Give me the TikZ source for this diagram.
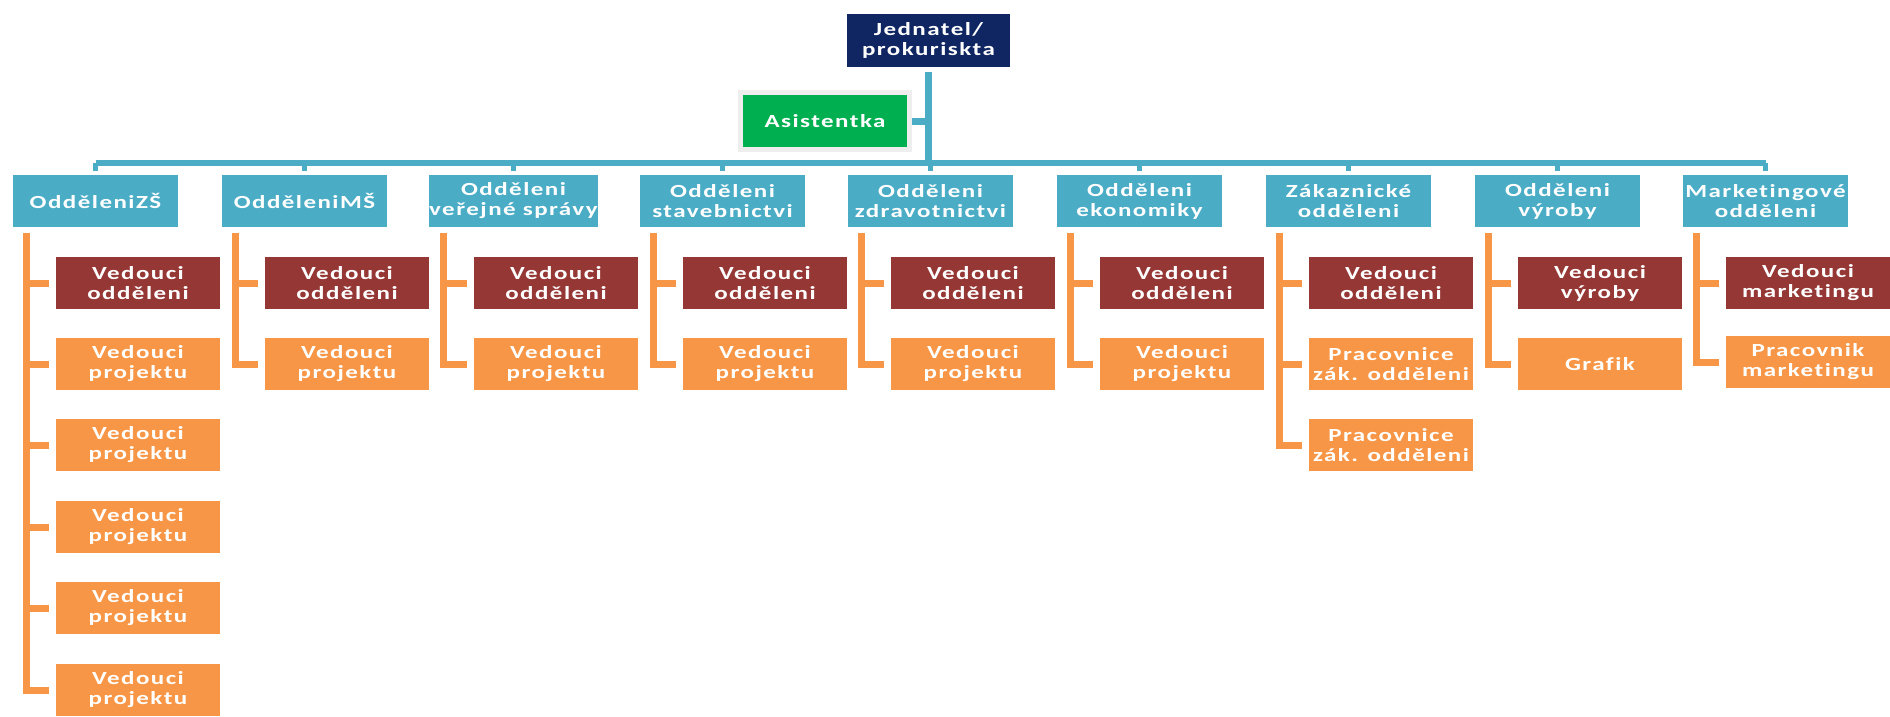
\documentclass[tikz,border=0pt]{standalone}
\usepackage{fontspec}
\newfontfamily\chartfont[FakeStretch=1.35, LetterSpace=8, Ligatures=NoCommon]{Carlito}
\definecolor{navy}{RGB}{16,38,98}
\definecolor{asstgreen}{RGB}{0,176,80}
\definecolor{deptblue}{RGB}{75,172,198}
\definecolor{leadred}{RGB}{149,55,53}
\definecolor{staffor}{RGB}{247,150,70}
\definecolor{halo}{RGB}{238,238,238}

\begin{document}
\begin{tikzpicture}[x=1pt,y=-1pt,
  box/.style={rectangle, inner sep=0pt, minimum width=164pt, minimum height=52pt,
    align=center, text=white, font=\chartfont\bfseries\fontsize{18.5}{20}\selectfont},
  topbox/.style={box, fill=navy, minimum width=163pt, minimum height=53pt},
  asstbox/.style={box, fill=asstgreen, draw=halo, line width=5pt,
    minimum width=169pt, minimum height=57pt},
  deptbox/.style={box, fill=deptblue, minimum width=165pt},
  leadbox/.style={box, fill=leadred},
  staffbox/.style={box, fill=staffor},
  busline/.style={draw=deptblue, line width=7pt},
  branchline/.style={draw=staffor, line width=7pt},
]
\fill[white] (0,0) rectangle (1890,716);
\useasboundingbox (0,0) rectangle (1890,716);

% management
\node[topbox] (top) at (928.5,40.5) {Jednatel/\\prokuriskta};
\node[asstbox] (asst) at (825,121) {Asistentka};

% departments
\node[deptbox] (d1) at (95.5,201)  {OdděleniZŠ};
\node[deptbox] (d2) at (304.5,201) {OdděleniMŠ};
\node[deptbox] (d3) at (513.5,201) {Odděleni\\veřejné správy};
\node[deptbox] (d4) at (722.5,201) {Odděleni\\stavebnictvi};
\node[deptbox] (d5) at (930.5,201) {Odděleni\\zdravotnictvi};
\node[deptbox] (d6) at (1139.5,201) {Odděleni\\ekonomiky};
\node[deptbox] (d7) at (1348.5,201) {Zákaznické\\odděleni};
\node[deptbox] (d8) at (1557.5,201) {Odděleni\\výroby};
\node[deptbox] (d9) at (1765.5,201) {Marketingové\\odděleni};

% staff of each department
\node[leadbox]  (c1a) at (138,283) {Vedouci\\odděleni};
\node[staffbox] (c1b) at (138,364) {Vedouci\\projektu};
\node[staffbox] (c1c) at (138,445) {Vedouci\\projektu};
\node[staffbox] (c1d) at (138,527) {Vedouci\\projektu};
\node[staffbox] (c1e) at (138,608) {Vedouci\\projektu};
\node[staffbox] (c1f) at (138,690) {Vedouci\\projektu};

\node[leadbox]  (c2a) at (347,283) {Vedouci\\odděleni};
\node[staffbox] (c2b) at (347,364) {Vedouci\\projektu};

\node[leadbox]  (c3a) at (556,283) {Vedouci\\odděleni};
\node[staffbox] (c3b) at (556,364) {Vedouci\\projektu};

\node[leadbox]  (c4a) at (765,283) {Vedouci\\odděleni};
\node[staffbox] (c4b) at (765,364) {Vedouci\\projektu};

\node[leadbox]  (c5a) at (973,283) {Vedouci\\odděleni};
\node[staffbox] (c5b) at (973,364) {Vedouci\\projektu};

\node[leadbox]  (c6a) at (1182,283) {Vedouci\\odděleni};
\node[staffbox] (c6b) at (1182,364) {Vedouci\\projektu};

\node[leadbox]  (c7a) at (1391,283) {Vedouci\\odděleni};
\node[staffbox] (c7b) at (1391,364) {Pracovnice\\zák. odděleni};
\node[staffbox] (c7c) at (1391,445) {Pracovnice\\zák. odděleni};

\node[leadbox]  (c8a) at (1600,283) {Vedouci\\výroby};
\node[staffbox] (c8b) at (1600,364) {Grafik};

\node[leadbox]  (c9a) at (1808,283) {Vedouci\\marketingu};
\node[staffbox] (c9b) at (1808,362) {Pracovnik\\marketingu};

% blue connectors
\coordinate (bus) at (930,163);
\draw[busline] ([yshift=-5pt]top.south) -- ([yshift=-3pt]top.south |- bus);
\draw[busline] (asst.east) -- (asst.east -| top.south);
\draw[busline, line width=6pt] (d1.north |- bus) -- (d9.north |- bus);
\foreach \i in {1,...,9}
  \draw[busline, line width=5pt] (d\i.north |- bus) -- ([yshift=4pt]d\i.north);

% orange connectors
\foreach \d/\kids in {1/{a,b,c,d,e,f}, 2/{a,b}, 3/{a,b}, 4/{a,b}, 5/{a,b},
                      6/{a,b}, 7/{a,b,c}, 8/{a,b}, 9/{a,b}}
  \foreach \k in \kids
    \draw[branchline] ([xshift=14pt,yshift=-6pt]d\d.south west) |- ([xshift=-7pt]c\d\k.west);
\end{tikzpicture}
\end{document}
